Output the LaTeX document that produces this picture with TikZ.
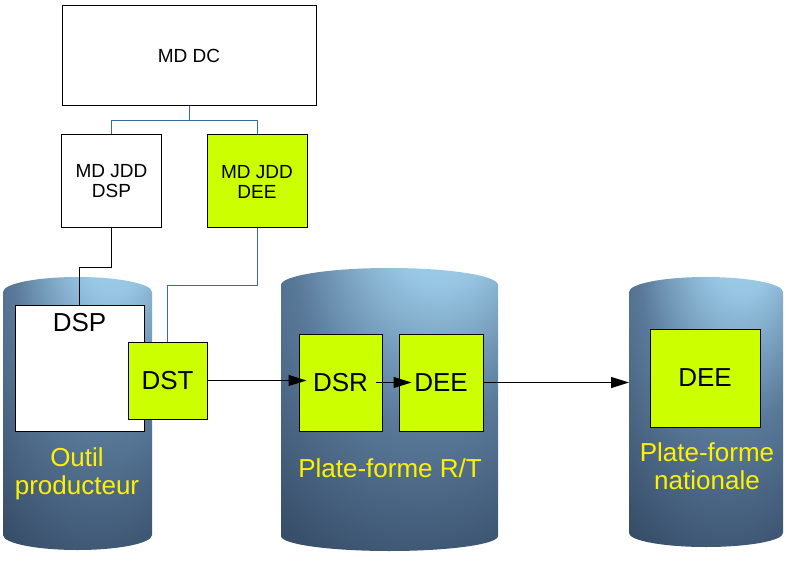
\documentclass[tikz,border=0pt]{standalone}
\usepackage{fontspec}
\setmainfont{Liberation Sans}
\usetikzlibrary{arrows.meta}
\definecolor{cylhi}{RGB}{172,224,252}
\definecolor{cylmid}{RGB}{90,122,154}
\definecolor{cyldark}{RGB}{46,66,92}
\definecolor{lime}{RGB}{204,255,0}
\definecolor{linkblue}{RGB}{60,105,160}
\pgfdeclareradialshading{cylshade}{\pgfpoint{14bp}{44bp}}{color(0bp)=(cylhi); color(14bp)=(cylhi!75!cylmid); color(30bp)=(cylmid); color(54bp)=(cyldark); color(80bp)=(cyldark)}
\tikzset{
  box/.style={draw=black, line width=1pt, fill=white, inner sep=0pt, align=center, font=\fontsize{19}{20}\selectfont},
  limebox/.style={box, fill=lime},
  bigtxt/.style={font=\fontsize{26}{29}\selectfont},
  cyllabel/.style={text=yellow, align=center, font=\fontsize{26}{28.5}\selectfont},
  link/.style={draw=black, line width=1pt},
  bluelink/.style={draw=linkblue, line width=1pt},
  flow/.style={draw=black, line width=1pt, -{Triangle[length=18pt,width=11pt]}},
  cyl/.style={shading=cylshade}
}
\begin{document}
\begin{tikzpicture}[x=1pt,y=-1pt]
\useasboundingbox (0,0) rectangle (789,569);
% cylinders
\path[cyl] (3,292) .. controls (3,283.75) and (36.5,277) .. (77.5,277) .. controls (118.5,277) and (152,283.75) .. (152,292) -- (152,535) .. controls (152,543.25) and (118.5,550) .. (77.5,550) .. controls (36.5,550) and (3,543.25) .. (3,535) -- cycle;
\path[cyl] (281,285) .. controls (281,275.6) and (329.8,268) .. (389.5,268) .. controls (449.2,268) and (498,275.6) .. (498,285) -- (498,536) .. controls (498,544.3) and (449.2,551) .. (389.5,551) .. controls (329.8,551) and (281,544.3) .. (281,536) -- cycle;
\path[cyl] (629,292) .. controls (629,283.75) and (663.65,277) .. (706,277) .. controls (748.35,277) and (783,283.75) .. (783,292) -- (783,533) .. controls (783,540.7) and (748.35,547) .. (706,547) .. controls (663.65,547) and (629,540.7) .. (629,533) -- cycle;
\coordinate (cylnat) at (629,381);
% boxes
\node[box, minimum width=254pt, minimum height=100pt] (mddc) at (189,56) {MD DC};
\node[box, minimum width=100pt, minimum height=93pt] (jddsp) at (111.5,181.5) {MD JDD\\DSP};
\node[limebox, minimum width=100pt, minimum height=93pt] (jddee) at (257,181.5) {MD JDD\\DEE};
\node[box, minimum width=129pt, minimum height=126pt, label={[anchor=north, yshift=-5pt, bigtxt]north:DSP}] (dsp) at (79.5,368) {};
\node[limebox, bigtxt, minimum width=79pt, minimum height=77pt] (dst) at (167.5,380.5) {DST};
\node[limebox, bigtxt, minimum width=83pt, minimum height=97pt] (dsr) at (340.5,382.5) {DSR};
\node[limebox, bigtxt, minimum width=84pt, minimum height=97pt] (deea) at (441,382.5) {DEE};
\node[limebox, bigtxt, minimum width=110pt, minimum height=98pt] (deeb) at (705,378) {DEE};
% labels
\node[cyllabel] (lab1) at (77,474) {Outil\\producteur};
\node[cyllabel] (lab2) at (390,468) {Plate-forme R/T};
\node[cyllabel] (lab3) at (707,466) {Plate-forme\\nationale};
% connectors
\coordinate (split) at (189,121);
\draw[bluelink] (mddc.south) -- (split) -| (jddsp.north);
\draw[bluelink] (split) -| (jddee.north);
\draw[link] (jddsp.south) -- ++(0,39) -| (dsp.north);
\draw[bluelink] (jddee.south) -- ++(0,57) -| (dst.north);
\draw[flow, shorten >=-8pt] (dst.east) -- (dst.east -| dsr.west);
\draw[flow, shorten <=-7pt, shorten >=-13pt] (dsr.east) -- (deea.west);
\draw[flow] (deea.east) -- (deea.east -| cylnat);
\end{tikzpicture}
\end{document}
